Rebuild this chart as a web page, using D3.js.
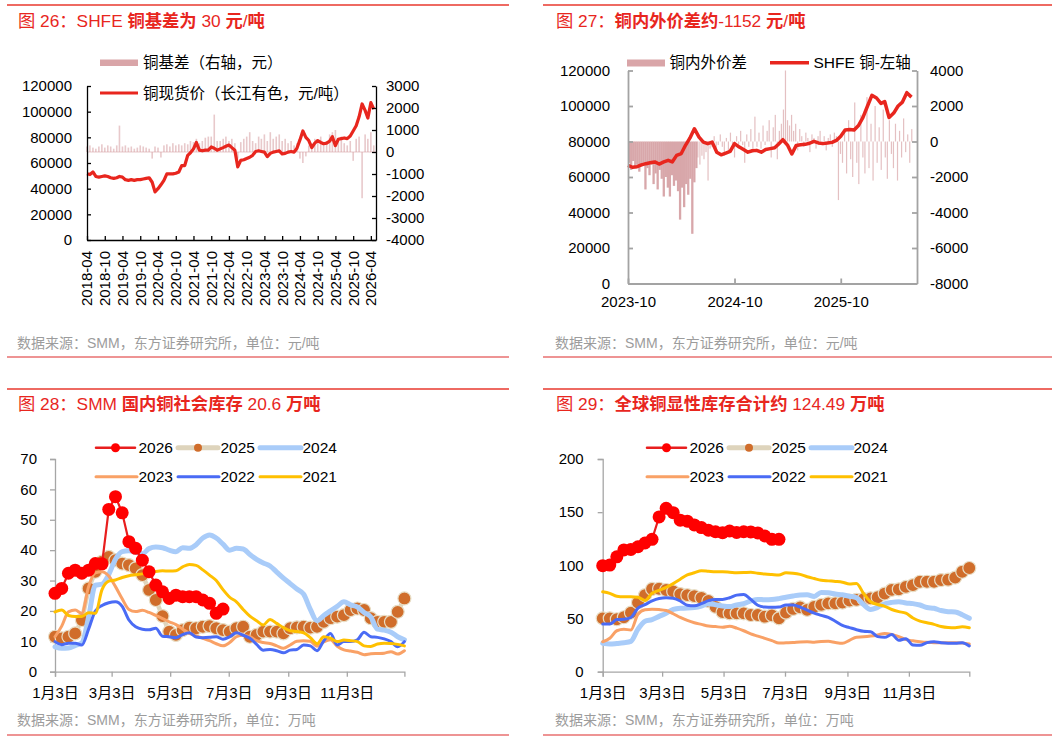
<!DOCTYPE html>
<html lang="zh">
<head>
<meta charset="utf-8">
<title>铜</title>
<script src="https://cdn.jsdelivr.net/npm/d3@7"></script>
<style>
  html, body { margin: 0; padding: 0; background: #fff; }
  svg { display: block; }
</style>
</head>
<body>
<svg id="chart" width="1061" height="741"></svg>
<script>
// 图 26：月度，自 2018-04 起
const basisStart = "2018-04";
const basisTicks = ["2018-04", "2018-10", "2019-04", "2019-10", "2020-04", "2020-10", "2021-04", "2021-10", "2022-04",
  "2022-10", "2023-04", "2023-10", "2024-04", "2024-10", "2025-04", "2025-10", "2026-04"];
const spotPrice = [
  51600, 51000, 53000, 49500, 49000, 49500, 50000, 49500, 48500,
  48000, 48500, 49500, 49000, 47000, 46500, 47000, 46500, 47000, 47000, 47500, 48000,
  48500, 45000, 37500, 40000, 43000, 46500, 51500, 51500, 51500, 52000, 53000, 58000,
  58000, 66000, 68000, 71000, 76000, 70000, 69500, 70000, 70000, 72500, 71500, 70000,
  71000, 72000, 73000, 74000, 72000, 70000, 57000, 62000, 62500, 63500, 64500, 66000,
  69000, 69500, 69000, 68500, 65000, 67500, 68500, 69000, 69500, 67000, 67500, 68500,
  69000, 68500, 71500, 78000, 85000, 80000, 77500, 72000, 75500, 77500, 76000, 75000,
  75500, 77000, 80500, 73500, 78500, 79000, 79500, 79000, 81000, 85000, 89000, 96000,
  106000, 101000, 95000, 107000, 102000
];
const basisMonthly = [
  250, 300, 200, 150, 250, 350, 200, 300, 250,
  150, 300, 1200, 250, 300, 200, 250, 150, 200, 300, 250, 200,
  150, -300, 250, 200, -250, 300, 350, 250, 400, 300, 350, 300,
  400, 350, 500, 450, 600, 400, 500, 650, 700, 700, 1700, 500,
  500, 600, 700, 500, 600, 400, -300, 450, 600, 700, 900, 500,
  400, 700, 600, 800, 500, 900, 600, 700, 800, 500, 600, 400,
  500, 300, 400, -300, -500, -200, 300, 400, 600, 500, 700, 400,
  500, 800, 900, 1000, 600, 700, 400, 300, 500, -400, 600, 700,
  -2100, 800, 600, 900, 300
];

// 图 27：价差按周，SHFE 铜按半月，自 2023-10 起
const spreadStart = "2023-10";
const spreadTicks = ["2023-10", "2024-10", "2025-10"];
const spreadWeekly = [
  -1200, -1600, -1100, -1500, -1300, -1700, -1400, -1200, -2700, -1500,
  -1900, -1300, -2400, -1800, -2700, -1600, -2100, -3100, -2000, -2600,
  -3100, -1900, -2500, -2200, -2800, -4400, -2600, -3700, -2400, -3000,
  -2100, -5200, -2300, -1500, -900, -1300, -800, -1000, -600, -2200,
  -400, -300, 300, -600, -200, 400, -300, -800, 200, -500,
  500, -300, -900, 300, -400, 600, -200, -1200, 400, -300,
  700, -500, 1400, -300, 500, -400, 900, -200, 600, 1200,
  -900, 800, 1500, -1000, 600, 1000, 1800, 4000, 1200, 900,
  1500, 600, 1000, -500, 700, 300, -300, 500, 200, -600,
  400, 200, -400, 300, 600, -200, 300, -500, 200, 400,
  -300, 500, 300, -3300, -700, -1200, 600, -1800, 1200, -1000,
  -2000, 2200, -1200, -2400, 1500, -900, -1800, 2500, -1500, 1000,
  -2200, 2000, -1200, 800, -1600, 1800, -900, -2100, 1200, -700,
  -1500, 1000, -2200, 600, -900, 1300, -600, 400, -1200, 700
];
const shfeHalfMonth = [
  66600, 65500, 65800, 66800, 67500, 68000, 68500, 67300, 68500, 69400,
  68500, 72200, 73200, 78000, 82000, 87200, 82500, 79700, 78800, 79700,
  74000, 72500, 73500, 74500, 78800, 77000, 75500, 74000, 74800, 75000,
  74000, 75500, 76000, 76500, 78500, 81000, 78000, 73000, 77800, 78200,
  78400, 79000, 80100, 79200, 78800, 79100, 79500, 80600, 83000, 86500,
  86800, 86500, 89000, 93500, 100000, 106000, 104500, 101500, 102500, 93500,
  96000, 100000, 102200, 107500, 105000
];

// 图 28 / 29：按周，自 1 月 3 日起（万吨）
const invTickDays = [0, 59, 120, 181, 243, 304];
const invTickLabels = ["1月3日", "3月3日", "5月3日", "7月3日", "9月3日", "11月3日"];
const years = ["2026", "2025", "2024", "2023", "2022", "2021"];

const smm2026 = [25.8, 27.4, 32.4, 33.4, 32.4, 33.4, 35.6, 35.5, 53.4, 57.6, 52.3, 42.8, 40.6, 36.7, 32.9, 28.5, 26.3, 24.1, 25.2,
  24.7, 24.7, 24.7, 23.6, 22.5, 19.2, 20.6];
const smm2025 = [11.5, 11, 11.5, 12.6, 17, 27.4, 32.9, 36.2, 37.8, 36.7, 35.6, 35.1, 34, 31.8, 26.9, 23.6, 18.3, 13.2, 12.1, 13.7,
  14.5, 14.3, 14.8, 15, 14.3, 13.7, 13.2, 14.3, 14.8, 11.5, 12.1, 13.2, 13.2, 13.2, 12.6, 14.3, 14.6, 14.8, 14.5, 14.8,
  16.4, 17.6, 18.1, 18.6, 20.3, 20.8, 20.3, 17.6, 16.4, 16.4, 16.4, 19.7, 24.1];
const smm2024 = [8.2, 7.7, 7.8, 8.6, 9.5, 18, 28.5, 28.8, 32, 37, 39.5, 39.8, 39.3, 38.8, 40.5, 41, 40.8, 40, 39.5, 40.8,
  40.6, 41.8, 44, 45, 44, 42, 40, 40.6, 40.4, 38.6, 37, 35.8, 34.8, 32.8, 30.8, 29, 27.2, 25.5, 20.5, 16.8,
  18.5, 20, 21.5, 23, 22, 21.3, 19.5, 18, 14, 13.7, 13, 11.5, 10.5];
const smm2023 = [11.5, 15, 19.7, 20.3, 19.2, 28, 32.5, 32.9, 31.5, 28, 24, 20.5, 19.8, 20.2, 19.5, 18.5, 17.5, 16.4, 15.5, 14,
  12.6, 11.8, 11, 10.2, 9.2, 8.5, 9.6, 11.5, 12, 11.5, 10.2, 9.6, 9.3, 8.5, 7.7, 8.8, 10, 10.2, 10, 8.4,
  9.8, 10.5, 8.4, 7.2, 6.8, 6.4, 5.6, 5.9, 6, 6.1, 6.6, 5.8, 6.9];
const smm2022 = [9.9, 8.9, 9.4, 9.4, 8.8, 14, 20, 21.8, 22.7, 23, 21.5, 17, 14.8, 14, 13.8, 14.3, 11.7, 11.5, 11.2, 12.2,
  12.8, 11.4, 11.2, 11.3, 11.5, 10.7, 11.5, 12.8, 12, 11, 9, 7.1, 7.3, 6.9, 6.2, 7.1, 7.3, 8.8, 8.5, 6.9,
  10.2, 12.6, 8.8, 9.9, 9.9, 10.5, 13, 11.5, 11.3, 10.8, 9.9, 8.2, 9.9];
const smm2021 = [19.7, 20.3, 18.5, 18.2, 18.2, 19.4, 19.2, 27, 29.8, 30.2, 31, 31.6, 31.9, 32.2, 32.6, 33, 33.2, 33.1, 33.2, 34.5,
  35.3, 35, 33.5, 31.8, 30, 27, 24.5, 23, 20.5, 18.3, 16.8, 15.4, 17.2, 15.9, 14.5, 13.5, 13.2, 12.8, 11.2, 9.2,
  11.5, 11, 9.9, 10.4, 10.2, 9.9, 8.5, 8.3, 9.1, 9.4, 9.3, 9, 8.5];

const glb2026 = [99.7, 100.3, 108, 114.5, 115, 117.5, 121, 124.5, 145.5, 153.6, 149.5, 142.5, 141.5, 138, 135.5, 133, 131.6,
  130.7, 132.3, 131, 131.6, 131.4, 130.5, 127.6, 124.5, 124.49];
const glb2025 = [50.2, 50.2, 49.3, 51.2, 55.5, 65, 72, 77.8, 78, 76.8, 75.5, 73, 72, 71, 69.5, 66.5, 61, 56, 54.9, 54.9,
  54.9, 53.3, 53.3, 51.7, 53, 50.2, 55.5, 59, 60.5, 58.2, 61, 62.8, 64.3, 64.3, 65, 66.8, 67.6, 68.3, 69, 70,
  73.5, 77, 77.5, 79.7, 81.4, 84.6, 84.6, 84.6, 86.2, 86.5, 88.5, 94, 97.5];
const glb2024 = [26.7, 26, 26.5, 27.2, 28.5, 40, 47.5, 49, 52, 55, 58.5, 59.6, 59.8, 60.4, 61.8, 64, 63, 61.8, 61.2, 62.8,
  64, 66.5, 68, 67.6, 67.8, 68.7, 70, 71.2, 72.2, 72.3, 70.8, 74.5, 74.2, 73, 72.3, 71, 69.5, 63, 58.5, 60.5,
  63.8, 65.2, 65.8, 64.6, 64, 62.7, 60.3, 59.6, 57.5, 56.4, 56.2, 53.5, 50.2];
const glb2023 = [28.2, 31.4, 38.5, 39.9, 39.2, 54, 58.2, 58.7, 58.4, 57.5, 54.5, 51, 48.2, 46, 44.5, 43, 42.4, 41.8, 42.8, 41,
  38.5, 35.5, 33.5, 31.4, 29.2, 26.9, 27.2, 27.5, 28, 28.2, 27.8, 28.4, 28.6, 27.5, 26.8, 29.5, 32.5, 32.8, 33.5, 34.6,
  36, 35, 33, 30.2, 29, 28.2, 27.6, 27.3, 27.3, 27.3, 27.3, 27, 26];
const glb2022 = [44.9, 44.9, 49, 49.3, 51, 59.8, 63, 66.5, 68.8, 69.5, 69, 66.5, 62.5, 62, 64, 66.8, 68, 68, 69.5, 72,
  72.5, 68, 62.5, 60.8, 60.6, 60.8, 62.7, 62.7, 60.8, 57.8, 55, 53, 51, 47.5, 43.5, 41.5, 39.5, 38, 37.6, 33,
  32.3, 35, 29.5, 31, 25.1, 24.8, 27.3, 28.2, 27.3, 26.8, 26.7, 27.3, 24.2];
const glb2021 = [75.2, 73.7, 71, 70.5, 70.5, 70, 67, 73.7, 76.5, 79.3, 82.8, 87, 91, 93, 95, 94.5, 94, 94, 93.6, 93.1,
  93.2, 93.4, 92.6, 91.8, 91.3, 90.9, 93, 92.6, 91.5, 89.3, 87.6, 86, 85.4, 84.9, 84.2, 82.5, 83, 73.5, 65.8, 63.2,
  61.5, 58.5, 56.5, 55, 50.5, 47.5, 46, 44.5, 42.5, 41.6, 41.4, 42.2, 41.4];

const FONT = '"Liberation Sans", "Noto Sans CJK SC", sans-serif';
const RED = "#e8261e";
const PINK = "#d9a5a8";
const svg = d3.select("#chart").attr("font-family", FONT);
const parseMonth = d3.timeParse("%Y-%m");
const plain = (d) => String(d);

// 外框：标题、来源、红线
const frames = [
  { x: 18, l: 7, r: 509, top: 5, ty: 27, bottom: 357, sy: 347.5, title: "图 26：SHFE 铜基差为 30 元/吨", unit: "元/吨" },
  { x: 556, l: 543, r: 1052, top: 5, ty: 27, bottom: 357, sy: 347.5, title: "图 27：铜内外价差约-1152 元/吨", unit: "元/吨" },
  { x: 18, l: 7, r: 509, top: 389, ty: 410, bottom: 735, sy: 725, title: "图 28：SMM 国内铜社会库存 20.6 万吨", unit: "万吨" },
  { x: 556, l: 543, r: 1052, top: 389, ty: 410, bottom: 735, sy: 725, title: "图 29：全球铜显性库存合计约 124.49 万吨", unit: "万吨" }
];

frames.forEach((f) => {
  svg.append("line").attr("x1", f.l).attr("x2", f.r).attr("y1", f.top).attr("y2", f.top)
    .attr("stroke", "#e8392e").attr("stroke-width", 1.5);
  svg.append("line").attr("x1", f.l).attr("x2", f.r).attr("y1", f.bottom).attr("y2", f.bottom)
    .attr("stroke", "#e87070").attr("stroke-width", 1.5);
  const t = svg.append("text").attr("x", f.x).attr("y", f.ty).attr("fill", RED).attr("font-size", 17.3);
  f.title.match(/[\u4e00-\u9fff]+|[^\u4e00-\u9fff]+/g).forEach((run) => {
    t.append("tspan")
      .attr("font-weight", /[\u4e00-\u9fff]/.test(run) && run !== "图" ? 700 : 400)
      .text(run);
  });
  svg.append("text").attr("x", f.x - 1).attr("y", f.sy).attr("fill", "#9c9c9c").attr("font-size", 14)
    .text(`数据来源：SMM，东方证券研究所，单位：${f.unit}`);
});

function styleAxis(sel, color, width, size) {
  sel.attr("font-family", FONT).attr("font-size", size);
  sel.selectAll(".domain").attr("stroke", color).attr("stroke-width", width);
  sel.selectAll(".tick line").attr("stroke", color).attr("stroke-width", width);
  sel.selectAll("text").attr("fill", "#000");
}

// ---------- 图 26 ----------
{
  const L = 87, R = 376, T = 86, B = 240;
  const x = d3.scaleTime().domain([parseMonth("2018-04"), new Date(2026, 4, 24)]).range([L, R]);
  const yL = d3.scaleLinear().domain([0, 120000]).range([B, T]);
  const yR = d3.scaleLinear().domain([-4000, 3000]).range([B, T]);
  const start = parseMonth(basisStart);
  const monthOf = (i) => d3.timeMonth.offset(start, i);

  svg.append("g").selectAll("rect").data(basisMonthly).join("rect")
    .attr("x", (d, i) => x(monthOf(i)) - 0.8)
    .attr("width", 1.6)
    .attr("y", (d) => Math.min(yR(0), yR(d)))
    .attr("height", (d) => Math.abs(yR(d) - yR(0)))
    .attr("fill", PINK).attr("opacity", 0.6);
  svg.append("line").attr("x1", L).attr("x2", R).attr("y1", yR(0)).attr("y2", yR(0))
    .attr("stroke", PINK).attr("stroke-width", 1).attr("opacity", 0.6);

  svg.append("path").datum(spotPrice)
    .attr("fill", "none").attr("stroke", RED).attr("stroke-width", 3.2).attr("stroke-linejoin", "round")
    .attr("d", d3.line().x((d, i) => x(monthOf(i))).y((d) => yL(d)));

  svg.append("g").attr("transform", `translate(${L},0)`)
    .call(d3.axisLeft(yL).tickValues(d3.range(0, 120001, 20000)).tickSizeInner(-4).tickSizeOuter(0).tickPadding(15).tickFormat(plain))
    .call((g) => styleAxis(g, "#000", 1.3, 15));
  svg.append("g").attr("transform", `translate(${R},0)`)
    .call(d3.axisRight(yR).tickValues(d3.range(-4000, 3001, 1000)).tickSizeInner(-4).tickSizeOuter(0).tickPadding(10).tickFormat(plain))
    .call((g) => styleAxis(g, "#000", 1.3, 15));
  const tickDates = basisTicks.map(parseMonth);
  const gx = svg.append("g").attr("transform", `translate(0,${B})`)
    .call(d3.axisBottom(x).tickValues(tickDates).tickSizeInner(-4).tickSizeOuter(0).tickFormat(""))
    .call((g) => styleAxis(g, "#000", 1.3, 15));
  gx.selectAll("text.rot").data(tickDates).join("text")
    .attr("class", "rot")
    .attr("transform", (d) => `translate(${x(d)},11) rotate(-90)`)
    .attr("text-anchor", "end").attr("dy", "0.36em").attr("fill", "#000")
    .text((d, i) => basisTicks[i]);

  svg.append("rect").attr("x", 100).attr("y", 59.5).attr("width", 38).attr("height", 6.5).attr("fill", PINK);
  svg.append("text").attr("x", 143).attr("y", 62.5).attr("dy", "0.36em").attr("font-size", 15.5).text("铜基差（右轴，元）");
  svg.append("line").attr("x1", 100).attr("x2", 138).attr("y1", 93).attr("y2", 93).attr("stroke", RED).attr("stroke-width", 3);
  svg.append("text").attr("x", 143).attr("y", 93).attr("dy", "0.36em").attr("font-size", 15.5).text("铜现货价（长江有色，元/吨）");
}

// ---------- 图 27 ----------
{
  const L = 628, R = 917, T = 70.5, B = 283.5;
  const start = parseMonth(spreadStart);
  const x = d3.scaleTime().domain([start, new Date(2026, 5, 20)]).range([L, R]);
  const yL = d3.scaleLinear().domain([0, 120000]).range([B, T]);
  const yR = d3.scaleLinear().domain([-8000, 4000]).range([B, T]);
  const weekOf = (i) => d3.timeDay.offset(start, i * 7);
  const halfOf = (j) => new Date(start.getFullYear(), start.getMonth() + Math.floor(j / 2), j % 2 ? 16 : 1);

  // 前 34 周价差持续为负，柱子连成一片
  svg.append("g").selectAll("rect").data(spreadWeekly).join("rect")
    .attr("x", (d, i) => x(weekOf(i)))
    .attr("width", (d, i) => (i < 34 ? 2.3 : 1.2))
    .attr("y", (d) => Math.min(yR(0), yR(d)))
    .attr("height", (d) => Math.abs(yR(d) - yR(0)))
    .attr("fill", (d, i) => (i < 34 ? "#d8a7aa" : PINK))
    .attr("opacity", (d, i) => (i < 34 ? 1 : 0.7));

  svg.append("path").datum(shfeHalfMonth)
    .attr("fill", "none").attr("stroke", RED).attr("stroke-width", 3.5).attr("stroke-linejoin", "round")
    .attr("d", d3.line().x((d, j) => x(halfOf(j))).y((d) => yL(d)));

  const GREY = "#a3a3a3";
  svg.append("g").attr("transform", `translate(${L},0)`)
    .call(d3.axisLeft(yL).tickValues(d3.range(0, 120001, 20000)).tickSizeInner(-5).tickSizeOuter(0).tickPadding(18).tickFormat(plain))
    .call((g) => styleAxis(g, GREY, 1.8, 15));
  svg.append("g").attr("transform", `translate(${R},0)`)
    .call(d3.axisRight(yR).tickValues(d3.range(-8000, 4001, 2000)).tickSizeInner(-5).tickSizeOuter(0).tickPadding(13).tickFormat(plain))
    .call((g) => styleAxis(g, GREY, 1.8, 15));
  const tickDates = spreadTicks.map(parseMonth);
  svg.append("g").attr("transform", `translate(0,${B})`)
    .call(d3.axisBottom(x).tickValues(tickDates).tickSizeInner(-5).tickSizeOuter(0).tickPadding(13).tickFormat((d, i) => spreadTicks[i]))
    .call((g) => styleAxis(g, GREY, 1.8, 15));

  svg.append("rect").attr("x", 627).attr("y", 59.5).attr("width", 38).attr("height", 7).attr("fill", PINK);
  svg.append("text").attr("x", 669.5).attr("y", 62.7).attr("dy", "0.36em").attr("font-size", 15.5).text("铜内外价差");
  svg.append("line").attr("x1", 770).attr("x2", 809).attr("y1", 62.7).attr("y2", 62.7).attr("stroke", RED).attr("stroke-width", 3.5);
  svg.append("text").attr("x", 813.5).attr("y", 62.7).attr("dy", "0.36em").attr("font-size", 15.5).text("SHFE 铜-左轴");
}

// ---------- 图 28 / 29 ----------
const yearStyle = {
  "2024": { color: "#a9ccf9", width: 5 },
  "2023": { color: "#f9a166", width: 3 },
  "2022": { color: "#4a6bf5", width: 3 },
  "2021": { color: "#ffc000", width: 3 }
};

function inventoryPanel({ L, R, T, B, yMax, yStep, pad, series, legendDx }) {
  const x = d3.scaleLinear().domain([0, 364]).range([L, R]);
  const y = d3.scaleLinear().domain([0, yMax]).range([B, T]);
  const GREY = "#a6a6a6";
  const line = d3.line().x((d, i) => x(i * 7)).y((d) => y(d)).curve(d3.curveMonotoneX);
  const straight = d3.line().x((d, i) => x(i * 7)).y((d) => y(d));

  svg.append("g").attr("transform", `translate(${L},0)`)
    .call(d3.axisLeft(y).tickValues(d3.range(0, yMax + 1, yStep)).tickSize(5).tickPadding(pad).tickFormat(plain))
    .call((g) => styleAxis(g, GREY, 1.3, 15));
  svg.append("g").attr("transform", `translate(0,${B})`)
    .call(d3.axisBottom(x).tickValues(invTickDays).tickSize(5).tickPadding(11).tickFormat((d, i) => invTickLabels[i]))
    .call((g) => styleAxis(g, GREY, 1.3, 15));

  const g = svg.append("g");
  g.append("path").datum(series["2025"])
    .attr("fill", "none").attr("stroke", "#ded4bc").attr("stroke-width", 4.5).attr("d", straight);
  g.selectAll("circle.y25").data(series["2025"]).join("circle")
    .attr("class", "y25")
    .attr("cx", (d, i) => x(i * 7)).attr("cy", (d) => y(d)).attr("r", 6.5)
    .attr("fill", "#d06d2b").attr("stroke", "#e8dec6").attr("stroke-width", 1.2);

  ["2024", "2023", "2022", "2021"].forEach((k) => {
    g.append("path").datum(series[k])
      .attr("fill", "none").attr("stroke", yearStyle[k].color).attr("stroke-width", yearStyle[k].width)
      .attr("stroke-linejoin", "round").attr("stroke-linecap", "round").attr("d", line);
  });

  g.append("path").datum(series["2026"])
    .attr("fill", "none").attr("stroke", "#e81e1e").attr("stroke-width", 2.2).attr("d", straight);
  g.selectAll("circle.y26").data(series["2026"]).join("circle")
    .attr("class", "y26")
    .attr("cx", (d, i) => x(i * 7)).attr("cy", (d) => y(d)).attr("r", 6.5)
    .attr("fill", "#ff0000");

  // 图例
  const cols = [96, 178, 260];
  const rows = [447.7, 476.7];
  years.forEach((k, i) => {
    const sx = cols[i % 3] + legendDx;
    const sy = rows[Math.floor(i / 3)];
    const lg = svg.append("g");
    if (k === "2026") {
      lg.append("line").attr("x1", sx).attr("x2", sx + 39).attr("y1", sy).attr("y2", sy)
        .attr("stroke", "#e81e1e").attr("stroke-width", 2.5).attr("stroke-linecap", "round");
      lg.append("circle").attr("cx", sx + 19.5).attr("cy", sy).attr("r", 4.5).attr("fill", "#ff0000");
    } else if (k === "2025") {
      lg.append("line").attr("x1", sx).attr("x2", sx + 40).attr("y1", sy).attr("y2", sy)
        .attr("stroke", "#ded4bc").attr("stroke-width", 5).attr("stroke-linecap", "round");
      lg.append("circle").attr("cx", sx + 20).attr("cy", sy).attr("r", 4).attr("fill", "#d06d2b");
    } else {
      lg.append("line").attr("x1", sx).attr("x2", sx + 41).attr("y1", sy).attr("y2", sy)
        .attr("stroke", yearStyle[k].color).attr("stroke-width", yearStyle[k].width).attr("stroke-linecap", "round");
    }
    lg.append("text").attr("x", sx + 42.5).attr("y", sy).attr("dy", "0.36em").attr("font-size", 15.5).text(k);
  });
}

inventoryPanel({
  L: 55, R: 404.4, T: 459, B: 671.7, yMax: 70, yStep: 10, pad: 13, legendDx: 0,
  series: { "2026": smm2026, "2025": smm2025, "2024": smm2024, "2023": smm2023, "2022": smm2022, "2021": smm2021 }
});
inventoryPanel({
  L: 602.7, R: 969.3, T: 459, B: 671.7, yMax: 200, yStep: 50, pad: 14, legendDx: 551,
  series: { "2026": glb2026, "2025": glb2025, "2024": glb2024, "2023": glb2023, "2022": glb2022, "2021": glb2021 }
});
</script>
</body>
</html>
